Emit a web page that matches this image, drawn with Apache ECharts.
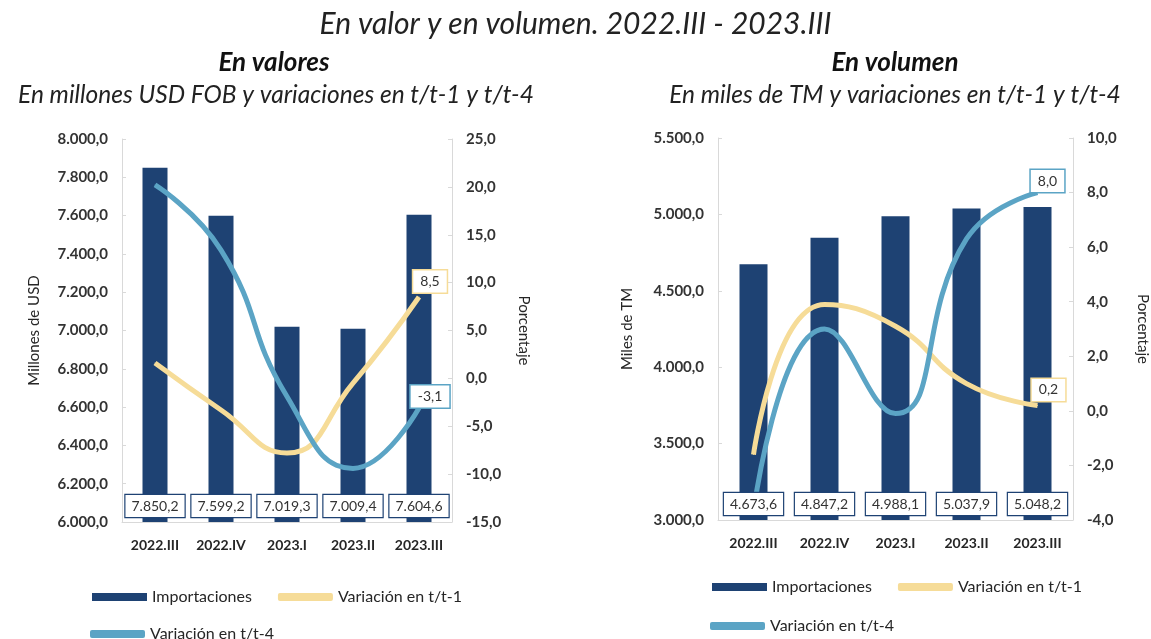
<!DOCTYPE html>
<html>
<head>
<meta charset="utf-8">
<script src="https://cdn.jsdelivr.net/npm/echarts@6/dist/echarts.min.js"></script>
<style>
  html, body { margin: 0; padding: 0; background: #fff; }
  #main { width: 1151px; height: 639px; }
</style>
</head>
<body>
<div id="main"></div>
<script>
// datos
var trimestres = ['2022.III', '2022.IV', '2023.I', '2023.II', '2023.III'];

// En valores (millones USD FOB)
var valImport = [7850.2, 7599.2, 7019.3, 7009.4, 7604.6];
var valVar1 = [1.6, -3.3, -7.8, -0.5, 8.5];
var valVar4 = [20.2, 13.4, -1.9, -9.4, -3.1];

// En volumen (miles de TM)
var volImport = [4673.6, 4847.2, 4988.1, 5037.9, 5048.2];
var volVar1 = [-1.6, 3.9, 3.1, 1.0, 0.2];
var volVar4 = [-3.7, 3.0, -0.1, 6.3, 8.0];

var colBar = '#1e4273';
var colAm = '#f6dc98';
var colAz = '#5ba4c5';
var colEje = '#d9d9d9';
var fuente = 'Lato';

// formato 7.850,2
function fmt(v) {
	var s = Math.abs(v).toFixed(1).split('.');
	s[0] = s[0].replace(/\B(?=(\d{3})+(?!\d))/g, '.');
	return (v < 0 ? '-' : '') + s.join(',');
}

// solo el ultimo punto lleva etiqueta
function ultimaEtiqueta(arr, color, offset) {
	return arr.map(function (v, i) {
		if (i < arr.length - 1) return v;
		return {
			value: v,
			label: {
				show: true, position: 'top', offset: offset, distance: 4,
				formatter: function (p) { return fmt(p.value); },
				backgroundColor: '#fff', borderColor: color, borderWidth: 1.5,
				padding: [4, 7], color: '#333', fontSize: 14, fontFamily: fuente
			}
		};
	});
}

function ejeY(idx, pos, min, max, interval, nombre, gap, rot) {
	return {
		type: 'value', gridIndex: idx, position: pos,
		min: min, max: max, interval: interval,
		name: nombre, nameLocation: 'middle', nameGap: gap, nameRotate: rot,
		nameTextStyle: { fontSize: 15, color: '#262626', fontFamily: fuente },
		axisLine: { show: true, lineStyle: { color: colEje } },
		axisTick: { show: true, inside: true, length: 4, lineStyle: { color: colEje } },
		splitLine: { show: false },
		axisLabel: { formatter: fmt, fontSize: 15, color: '#333', fontWeight: 'bold', fontFamily: fuente, margin: 14 }
	};
}

function ejeX(idx) {
	return {
		type: 'category', gridIndex: idx, data: trimestres,
		axisLine: { onZero: false, lineStyle: { color: colEje } },
		axisTick: { show: false },
		axisLabel: { interval: 0, hideOverlap: false, fontSize: 14, color: '#262626', fontWeight: 'bold', fontFamily: fuente, margin: 16 }
	};
}

// barras transparentes encima de las lineas, solo para las etiquetas
function etiquetas(idx, yIdx, data, ancho) {
	return {
		name: 'etq' + idx, type: 'bar', xAxisIndex: idx, yAxisIndex: yIdx, data: data,
		barWidth: ancho, barGap: '-100%', itemStyle: { color: 'rgba(0,0,0,0)' }, z: 5,
		silent: true,
		label: {
			show: true, position: 'insideBottom', distance: 5,
			formatter: function (p) { return fmt(p.value); },
			backgroundColor: '#fff', borderColor: colBar, borderWidth: 1.2,
			padding: [4, 6], color: '#333', fontSize: 14, fontFamily: fuente
		}
	};
}

function linea(nombre, idx, data, color, offset) {
	return {
		name: nombre, type: 'line', xAxisIndex: idx, yAxisIndex: idx * 2 + 1,
		data: ultimaEtiqueta(data, color, offset), smooth: true,
		symbol: 'circle', symbolSize: 1, clip: true,
		lineStyle: { width: 5, color: color }, itemStyle: { color: color }, z: 3
	};
}

function leyenda(left, top, items) {
	return {
		left: left, top: top, itemWidth: 55, itemHeight: 8, itemGap: 26,
		textStyle: { fontSize: 16, color: '#262626', fontFamily: fuente },
		data: items
	};
}

var myChart = echarts.init(document.getElementById('main'));
var option = {
	animation: false,
	title: [
		{ text: 'En valor y en volumen. 2022.III - 2023.III', left: 'center', top: 4,
		  textStyle: { fontSize: 30, fontStyle: 'italic', fontWeight: 'normal', color: '#222', fontFamily: fuente } },
		{ text: 'En valores', left: 269, textAlign: 'center', top: 45,
		  textStyle: { fontSize: 26, fontStyle: 'italic', fontWeight: 'bold', color: '#111', fontFamily: fuente } },
		{ text: 'En millones USD FOB y variaciones en t/t-1 y t/t-4', left: 271, textAlign: 'center', top: 78,
		  textStyle: { fontSize: 24.5, fontStyle: 'italic', fontWeight: 'normal', color: '#222', fontFamily: fuente } },
		{ text: 'En volumen', left: 890, textAlign: 'center', top: 45,
		  textStyle: { fontSize: 26, fontStyle: 'italic', fontWeight: 'bold', color: '#111', fontFamily: fuente } },
		{ text: 'En miles de TM y variaciones en t/t-1 y t/t-4', left: 890, textAlign: 'center', top: 78,
		  textStyle: { fontSize: 24.5, fontStyle: 'italic', fontWeight: 'normal', color: '#222', fontFamily: fuente } }
	],
	legend: [
		leyenda(87, 584, [{ name: 'Importaciones', icon: 'rect' }, { name: 'Variación en t/t-1', icon: 'roundRect' }]),
		leyenda(85, 621, [{ name: 'Variación en t/t-4', icon: 'roundRect' }]),
		leyenda(707, 574, [{ name: 'Importaciones', icon: 'rect' }, { name: 'Variación en t/t-1', icon: 'roundRect' }]),
		leyenda(705, 613, [{ name: 'Variación en t/t-4', icon: 'roundRect' }])
	],
	grid: [
		{ left: 122, top: 139, width: 330, height: 383 },
		{ left: 718, top: 138, width: 360, height: 382 }
	],
	xAxis: [ejeX(0), ejeX(1)],
	yAxis: [
		ejeY(0, 'left', 6000, 8000, 200, 'Millones de USD', 80, 90),
		ejeY(0, 'right', -15, 25, 5, 'Porcentaje', 64, -90),
		ejeY(1, 'left', 3000, 5500, 500, 'Miles de TM', 83, 90),
		ejeY(1, 'right', -4, 10, 2, 'Porcentaje', 62, -90)
	],
	series: [
		{ name: 'Importaciones', type: 'bar', xAxisIndex: 0, yAxisIndex: 0, data: valImport,
		  barWidth: 25, itemStyle: { color: colBar }, z: 2 },
		linea('Variación en t/t-1', 0, valVar1, colAm, [11, 0]),
		linea('Variación en t/t-4', 0, valVar4, colAz, [11, 4]),
		etiquetas(0, 0, valImport, 25),
		{ name: 'Importaciones', type: 'bar', xAxisIndex: 1, yAxisIndex: 2, data: volImport,
		  barWidth: 28, itemStyle: { color: colBar }, z: 2 },
		linea('Variación en t/t-1', 1, volVar1, colAm, [11, 0]),
		linea('Variación en t/t-4', 1, volVar4, colAz, [10, 4]),
		etiquetas(1, 2, volImport, 28)
	]
};
myChart.setOption(option);
</script>
</body>
</html>
